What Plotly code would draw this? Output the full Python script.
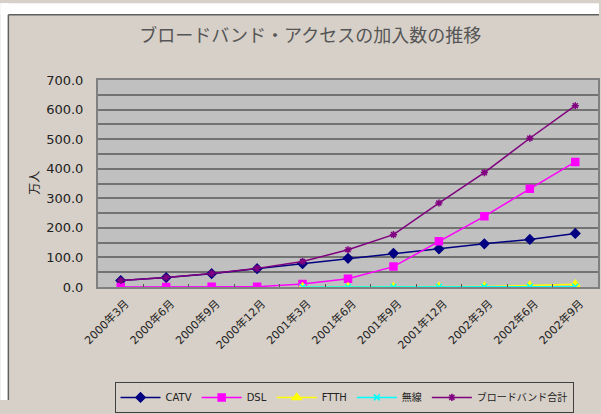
import plotly.graph_objects as go

categories = ['2000年3月', '2000年6月', '2000年9月', '2000年12月', '2001年3月', '2001年6月',
              '2001年9月', '2001年12月', '2002年3月', '2002年6月', '2002年9月']
catv = [22, 32, 45, 62, 79, 97, 114, 129, 146, 161, 181]
dsl = [0.1, 0.2, 0.5, 1, 10, 28, 69, 155, 239, 332, 423]
ftth = [None, None, None, None, 0, 0.1, 0.3, 0.6, 1.5, 5, 9]
musen = [None, None, None, None, 0.1, 0.2, 0.3, 0.4, 0.5, 0.6, 0.7]
total = [22, 32, 46, 63, 86, 126, 177, 284, 387, 503, 613]

W, H = 601, 414
L, R, T, B = 98, 600, 80, 296

def px(x):
    return (x - L) / (R - L)

def py(y):
    return (B - y) / (B - T)

FONT = "DejaVu Sans, Noto Sans CJK JP"
JFONT = "Noto Sans CJK JP"
BEIGE = "#d7d0c8"
TXT = "#222222"

fig = go.Figure()
series = [
    ("CATV", catv, "#000080", "diamond", 7),
    ("DSL", dsl, "#ff00ff", "square", 7),
    ("FTTH", ftth, "#ffff00", "triangle-up", 8),
    ("無線", musen, "#00ffff", "x-thin-open", 6),
    ("ブロードバンド合計", total, "#800080", "asterisk-open", 6),
]
for name, vals, col, sym, sz in series:
    fig.add_trace(go.Scatter(
        x=categories, y=vals, name=name, mode="lines+markers",
        line=dict(color=col, width=1.5),
        marker=dict(symbol=sym, size=sz, color=col, line=dict(color=col, width=1.5)),
    ))

shapes = [
    dict(type="rect", xref="paper", yref="paper", x0=px(0), x1=px(W), y0=py(0), y1=py(12),
         fillcolor="white", line=dict(width=0), layer="below"),
    dict(type="rect", xref="paper", yref="paper", x0=px(0), x1=px(8), y0=py(0), y1=py(H),
         fillcolor="white", line=dict(width=0), layer="below"),
    dict(type="line", xref="paper", yref="paper", x0=px(8), x1=px(W), y0=py(12), y1=py(12),
         line=dict(color="#606060", width=1.5)),
    dict(type="line", xref="paper", yref="paper", x0=px(8), x1=px(8), y0=py(12), y1=py(H),
         line=dict(color="#606060", width=1.5)),
]

fig.update_layout(
    width=W, height=H,
    margin=dict(l=L, r=W - R, t=T, b=H - B),
    paper_bgcolor=BEIGE, plot_bgcolor="#c0c0c0",
    font=dict(family=FONT, color=TXT),
    title=dict(text="ブロードバンド・アクセスの加入数の推移", x=px(311), xanchor="center",
               xref="paper", y=1 - 36 / H, yref="container", yanchor="middle",
               font=dict(size=18, color="#555555", family=JFONT)),
    showlegend=True,
    legend=dict(orientation="h", x=px(345), xanchor="center", y=py(395), yanchor="top",
                bgcolor=BEIGE, bordercolor="#404040", borderwidth=1,
                font=dict(size=10, family=FONT, color=TXT),
                itemwidth=40, tracegroupgap=0),
    shapes=shapes,
    annotations=[dict(text="万人", xref="paper", yref="paper", x=px(33), y=py(187),
                      xanchor="center", yanchor="middle",
                      showarrow=False, textangle=-90, font=dict(size=12, family=JFONT, color=TXT))],
)
fig.update_xaxes(
    type="category", tickangle=-45, tickfont=dict(size=11, family=FONT, color=TXT),
    showgrid=False, showline=True, linecolor="#808080", linewidth=2, mirror=True,
    ticks="inside", tickson="boundaries", ticklen=3, tickcolor="#555555",
    range=[-0.5, 10.5], ticklabelstandoff=4, ticklabelshift=5,
)
fig.update_yaxes(
    range=[0, 700], dtick=100, tickformat=".1f",
    tickfont=dict(size=13, family=FONT, color=TXT),
    showgrid=True, gridcolor="#727272", gridwidth=2,
    minor=dict(dtick=50, showgrid=True, gridcolor="#727272", gridwidth=2),
    showline=True, linecolor="#808080", linewidth=2, mirror=True,
    zeroline=False, ticks="", ticklabelstandoff=10,
)

fig.write_html("out.html")
